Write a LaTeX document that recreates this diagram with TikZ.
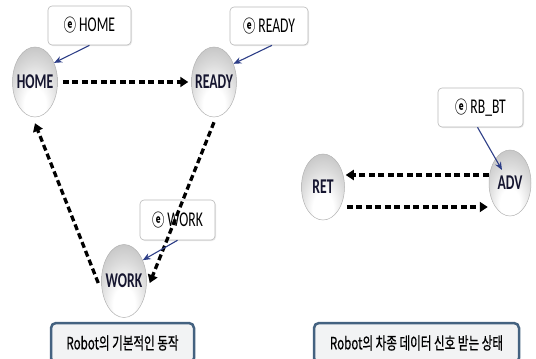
\documentclass[tikz,border=0pt]{standalone}
\usepackage{fontspec}
\setmainfont{Carlito}
\newfontfamily\lblfont[FakeStretch=0.65]{Carlito}
\newfontfamily\krfont[FakeStretch=0.68,FakeBold=0.6]{Noto Sans CJK KR}
\newfontfamily\circfont[FakeStretch=0.72]{Noto Sans CJK KR}
\usetikzlibrary{arrows.meta,shadows,calc,shapes.geometric}
\definecolor{navyink}{RGB}{22,22,48}
\definecolor{linkblue}{RGB}{45,62,135}
\definecolor{capborder}{RGB}{68,98,128}
\definecolor{capfill}{RGB}{242,243,244}
\pgfdeclareradialshading{eggshade}{\pgfpoint{0bp}{-20bp}}{%
  color(0bp)=(white); color(12bp)=(white); color(26bp)=(gray!28);
  color(40bp)=(gray!52); color(54bp)=(gray!68); color(70bp)=(gray!80)}
\newcommand{\circe}{{\circfont\bfseries\fontsize{17}{17}\selectfont ⓔ}}
\newcommand{\bt}[1]{\makebox[0pt]{#1}}
\tikzset{
  ball/.style={ellipse, minimum width=45pt, minimum height=70pt, inner sep=0pt,
    shading=eggshade, draw=gray!60, line width=0.5pt, text=navyink,
    font=\lblfont\bfseries\fontsize{21}{21}\selectfont},
  lbl/.style={rectangle, rounded corners=4pt, draw=gray!55, line width=0.6pt,
    fill=white, inner sep=0pt, text=black,
    drop shadow={opacity=0.18, shadow xshift=1pt, shadow yshift=-1pt},
    font=\lblfont\fontsize{21}{21}\selectfont},
  capbox/.style={rectangle, rounded corners=5pt, draw=capborder, line width=2.5pt,
    fill=capfill, inner sep=0pt, text=black,
    font=\krfont\fontsize{17}{17}\selectfont},
  dasharrow/.style={line width=3.3pt, dash pattern=on 6pt off 3.5pt,
    -{Triangle[length=8pt,width=10pt]}},
  linkarrow/.style={linkblue, line width=1.1pt, -{Stealth[length=8pt,width=6.5pt]}}
}
\begin{document}
\begin{tikzpicture}[x=1pt,y=-1pt]
\useasboundingbox (0,0) rectangle (536,359);
\clip (0,0) rectangle (536,359);
% state balls
\node[ball] (home)  at (35,82)   {\bt{HOME}};
\node[ball] (ready) at (214,82)  {\bt{READY}};
\node[ball, minimum height=73pt] (work)  at (124,281) {\bt{WORK}};
\node[ball, minimum width=43pt, minimum height=66pt] (ret) at (323,187) {\bt{RET}};
\node[ball, minimum width=42pt, minimum height=66pt] (adv) at (510,183) {\bt{ADV}};
% event labels
\node[lbl, minimum width=83pt, minimum height=39pt] (lhome)  at (89.5,25.5) {\circe\ HOME};
\node[lbl, minimum width=78pt, minimum height=38pt] (lready) at (269,26)   {\circe\ READY};
\node[lbl, minimum width=75pt, minimum height=40pt] (lwork)  at (177.5,220) {\circe\ WORK};
\node[lbl, minimum width=85pt, minimum height=39pt] (lrb)    at (480.5,107.5) {\circe\ RB\_BT};
% captions
\node[capbox, minimum width=143pt, minimum height=40pt] (cap1) at (122.5,343) {Robot의 기본적인 동작};
\node[capbox, minimum width=205pt, minimum height=40pt] (cap2) at (416.5,343) {Robot의 차종 데이터 신호 받는 상태};
% transitions
\draw[dasharrow] ([xshift=5pt]home.east) -- ([xshift=-3pt]ready.west);
\draw[dasharrow] ([yshift=-5pt]ready.south) -- ([xshift=3pt,yshift=-2pt]work.east);
\draw[dasharrow] ([xshift=-3pt,yshift=-2pt]work.west) -- ([yshift=-6pt]home.south);
\draw[dasharrow] ([yshift=8pt]adv.west) -- ([xshift=1pt,yshift=12pt]ret.east);
\draw[dasharrow] ([xshift=2pt,yshift=-20pt]ret.east) -- ([xshift=-1pt,yshift=-24pt]adv.west);
% event links
\draw[linkarrow] (lhome.south) -- (home.45);
\draw[linkarrow] ([xshift=3pt]lready.south) -- (ready.43);
\draw[linkarrow] (lwork.south) -- (work.48);
\draw[linkarrow] ([xshift=-3pt]lrb.south) -- ($(adv.center)+(-8,-13)$);
\end{tikzpicture}
\end{document}
